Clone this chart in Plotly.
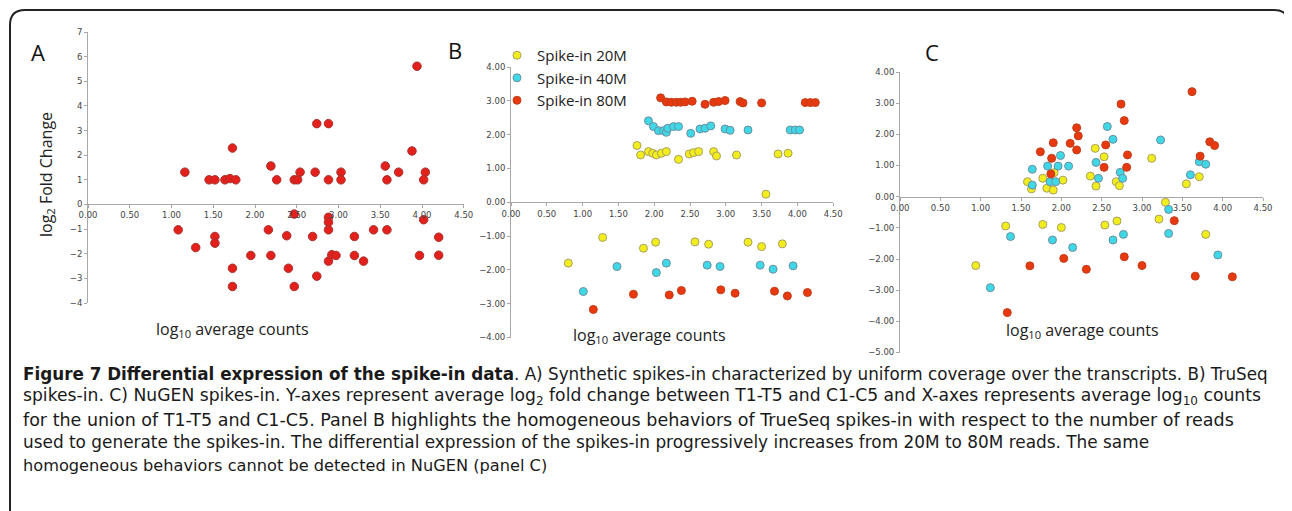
import plotly.graph_objects as go

W, H = 1292, 511
PAGE_OFFSET = 8  # the browser puts the figure 8px in from the page corner

# ---- Panel A: synthetic spikes-in ----
a_x = [1.16, 1.45, 1.52, 1.64, 1.70, 1.77, 1.73, 2.19, 2.26, 2.47, 2.51, 2.54, 2.72,
       2.74, 2.88, 2.88, 3.03, 3.03, 3.56, 3.58, 3.72, 3.88, 3.94, 4.04, 4.02,
       1.08, 1.29, 1.52, 1.52, 1.73, 1.73, 1.95, 2.16, 2.19, 2.38, 2.40, 2.47, 2.47,
       2.69, 2.74, 2.88, 2.88, 2.88, 2.88, 2.92, 2.97, 3.19, 3.19, 3.30, 3.42, 3.58,
       3.97, 4.02, 4.20, 4.20]
a_y = [1.31, 1.00, 1.00, 1.00, 1.05, 1.00, 2.29, 1.56, 1.00, 1.00, 1.00, 1.31, 1.31,
       3.28, 3.28, 1.00, 1.31, 1.00, 1.56, 1.00, 1.31, 2.17, 5.61, 1.31, 1.00,
       -1.03, -1.75, -1.30, -1.57, -2.59, -3.33, -2.07, -1.03, -2.07, -1.27, -2.59, -0.39, -3.33,
       -1.30, -2.91, -0.52, -0.72, -1.03, -2.30, -2.04, -2.07, -1.30, -2.07, -2.30, -1.03, -1.03,
       -2.07, -0.62, -1.33, -2.06]

# ---- Panel B: TruSeq spikes-in ----
b20_x = [1.76, 1.81, 1.92, 1.98, 2.03, 2.10, 2.17, 2.34, 2.49, 2.55, 2.62, 2.83, 2.87,
         3.15, 3.56, 3.73, 3.87,
         0.80, 1.28, 1.85, 2.02, 2.57, 2.76, 3.31, 3.50, 3.79]
b20_y = [1.68, 1.40, 1.50, 1.45, 1.40, 1.45, 1.50, 1.27, 1.43, 1.47, 1.50, 1.50, 1.37,
         1.40, 0.24, 1.43, 1.45,
         -1.80, -1.04, -1.36, -1.18, -1.17, -1.24, -1.18, -1.31, -1.23]
b40_x = [1.92, 1.99, 2.06, 2.13, 2.17, 2.19, 2.27, 2.34, 2.51, 2.64, 2.71, 2.79, 2.99,
         3.06, 3.31, 3.90, 3.97, 4.03,
         1.01, 1.48, 2.03, 2.17, 2.74, 2.92, 3.48, 3.66, 3.94]
b40_y = [2.41, 2.24, 2.12, 2.12, 2.07, 2.19, 2.24, 2.24, 2.04, 2.17, 2.19, 2.26, 2.17,
         2.13, 2.14, 2.14, 2.14, 2.14,
         -2.64, -1.90, -2.08, -1.80, -1.86, -1.90, -1.86, -1.98, -1.88]
b80_x = [2.09, 2.17, 2.24, 2.31, 2.37, 2.43, 2.53, 2.71, 2.83, 2.90, 2.99, 3.20, 3.24,
         3.50, 4.11, 4.18, 4.25,
         1.15, 1.71, 2.21, 2.38, 2.93, 3.13, 3.68, 3.86, 4.14]
b80_y = [3.09, 2.97, 2.96, 2.96, 2.96, 2.97, 2.99, 2.90, 2.96, 2.98, 3.01, 2.98, 2.94,
         2.94, 2.95, 2.95, 2.95,
         -3.17, -2.72, -2.74, -2.61, -2.59, -2.69, -2.63, -2.77, -2.67]

# ---- Panel C: NuGEN spikes-in ----
c20_x = [2.42, 2.53, 3.12, 1.58, 1.63, 1.77, 1.82, 1.91, 1.90, 2.02, 2.36, 2.43, 2.68,
         2.72, 3.55, 3.71, 3.29, 3.21, 1.31, 1.77, 2.00, 2.54, 2.69, 3.79, 0.94]
c20_y = [1.55, 1.28, 1.23, 0.48, 0.25, 0.59, 0.27, 0.77, 0.21, 0.53, 0.66, 0.34, 0.48,
         0.35, 0.41, 0.64, -0.18, -0.72, -0.94, -0.89, -0.99, -0.91, -0.78, -1.21, -2.21]
c40_x = [2.57, 2.64, 3.23, 1.99, 1.64, 1.83, 1.96, 2.09, 2.43, 1.64, 1.86, 1.93, 2.46,
         2.73, 2.76, 3.60, 3.71, 3.79, 3.33, 3.33, 1.37, 1.89, 2.14, 2.64, 2.77, 3.94, 1.12]
c40_y = [2.25, 1.84, 1.82, 1.32, 0.88, 0.98, 0.98, 0.98, 1.10, 0.37, 0.48, 0.48, 0.59,
         0.78, 0.59, 0.70, 1.12, 1.04, -0.41, -1.18, -1.28, -1.39, -1.63, -1.39, -1.21, -1.87, -2.92]
c80_x = [3.62, 2.74, 2.78, 2.19, 2.21, 1.90, 2.11, 2.19, 1.74, 2.55, 1.88, 2.82, 2.53,
         2.81, 1.87, 3.84, 3.90, 3.72, 3.40, 1.61, 2.03, 2.31, 2.78, 3.00, 3.66, 4.12, 1.33]
c80_y = [3.37, 2.97, 2.44, 2.21, 1.95, 1.73, 1.71, 1.50, 1.44, 1.66, 1.23, 1.34, 0.94,
         0.94, 0.73, 1.76, 1.64, 1.30, -0.77, -2.22, -1.98, -2.33, -1.93, -2.21, -2.55, -2.57, -3.72]

series_names = ["Spike-in 20M", "Spike-in 40M", "Spike-in 80M"]
fill_colors = ["#f2ee1e", "#3fd8e6", "#e8380f"]
edge_colors = ["#a9a060", "#6b8fa0", "#c0401a"]

x_ticks = [0, 0.5, 1, 1.5, 2, 2.5, 3, 3.5, 4, 4.5]


def px_x(p):
    return (p - PAGE_OFFSET) / W


def px_y(p):
    return 1 - (p - PAGE_OFFSET) / H


fig = go.Figure()

# panel A
fig.add_trace(go.Scatter(
    x=a_x, y=a_y, mode="markers", showlegend=False,
    marker=dict(size=8.5, color="#e3201b", line=dict(color="#a8322c", width=1)),
    xaxis="x", yaxis="y"))

# panels B and C
b_data = [(b20_x, b20_y), (b40_x, b40_y), (b80_x, b80_y)]
c_data = [(c20_x, c20_y), (c40_x, c40_y), (c80_x, c80_y)]
for i, name in enumerate(series_names):
    fig.add_trace(go.Scatter(
        x=b_data[i][0], y=b_data[i][1], mode="markers", name=name,
        marker=dict(size=8, color=fill_colors[i], line=dict(color=edge_colors[i], width=1)),
        xaxis="x2", yaxis="y2"))
for i, name in enumerate(series_names):
    fig.add_trace(go.Scatter(
        x=c_data[i][0], y=c_data[i][1], mode="markers", name=name, showlegend=False,
        marker=dict(size=8, color=fill_colors[i], line=dict(color=edge_colors[i], width=1)),
        xaxis="x3", yaxis="y3"))

axis_common = dict(showgrid=False, zeroline=False, showline=True, linecolor="#a8a8a8",
                   linewidth=1, ticks="outside", ticklen=3, tickcolor="#a8a8a8",
                   automargin=False,
                   tickfont=dict(family="DejaVu Sans", size=8.5, color="#444444"))

# pixel layout of each panel: x zero, px per x unit, y zero line, y top/bottom
panels = {
    "": dict(x0=88, xu=83.5, yz=204, ytop=32, ybot=303, yr=[-4, 7], yfmt="d",
             ytv=list(range(-4, 8))),
    "2": dict(x0=511, xu=71.6, yz=202.3, ytop=67.1, ybot=337.5, yr=[-4, 4], yfmt=".2f",
              ytv=list(range(-4, 5))),
    "3": dict(x0=900, xu=80.67, yz=196.7, ytop=72, ybot=352.5, yr=[-5, 4], yfmt=".2f",
              ytv=list(range(-5, 5))),
}
layout_axes = {}
for k, p in panels.items():
    xa = dict(axis_common)
    xa.update(range=[0, 4.5], tickvals=x_ticks, tickformat=".2f",
              domain=[px_x(p["x0"]), px_x(p["x0"] + 4.5 * p["xu"])],
              anchor="free", position=px_y(p["yz"]))
    ya = dict(axis_common)
    ya.update(range=p["yr"], tickvals=p["ytv"], tickformat=p["yfmt"],
              domain=[px_y(p["ybot"]), px_y(p["ytop"])],
              anchor="x" + k)
    layout_axes["xaxis" + k] = xa
    layout_axes["yaxis" + k] = ya
fig.update_layout(**layout_axes)


def label(text, xp, yp, size, family="Open Sans", xanchor="center", angle=0, color="#222"):
    return dict(text=text, x=px_x(xp), y=px_y(yp), xref="paper", yref="paper",
                xanchor=xanchor, yanchor="middle", showarrow=False, textangle=angle,
                font=dict(family=family, size=size, color=color))


annotations = []
# panel letters
for letter, xp, yp in [("A", 38, 52), ("B", 455, 50), ("C", 932, 52)]:
    annotations.append(label(letter, xp, yp, 22, color="#111"))
# axis titles
for xp, yp in [(232, 329), (649, 335), (1082, 330)]:
    annotations.append(label("log<sub>10</sub> average counts", xp, yp, 16))
annotations.append(label("log<sub>2</sub> Fold Change", 46, 175, 16, angle=-90))

caption = [
    "<b>Figure 7 Differential expression of the spike-in data</b>. A) Synthetic spikes-in "
    "characterized by uniform coverage over the transcripts. B) TruSeq",
    "spikes-in. C) NuGEN spikes-in. Y-axes represent average log<sub>2</sub> fold change between "
    "T1-T5 and C1-C5 and X-axes represents average log<sub>10</sub> counts",
    "for the union of T1-T5 and C1-C5. Panel B highlights the homogeneous behaviors of TrueSeq "
    "spikes-in with respect to the number of reads",
    "used to generate the spikes-in. The differential expression of the spikes-in progressively "
    "increases from 20M to 80M reads. The same",
    "homogeneous behaviors cannot be detected in NuGEN (panel C)",
]
caption_sizes = [16.8, 17.2, 17.5, 16.9, 16.2]
for i, line in enumerate(caption):
    annotations.append(label(line, 21, 374 + 22.8 * i, caption_sizes[i],
                             family="DejaVu Sans", xanchor="left", color="#1a1a1a"))

# rounded frame
r = 15
x0, x1, y0, y1 = 10, 1289, 10, 540
path = (f"M {px_x(x0)},{px_y(y1)} L {px_x(x0)},{px_y(y0 + r)} "
        f"Q {px_x(x0)},{px_y(y0)} {px_x(x0 + r)},{px_y(y0)} "
        f"L {px_x(x1 - r)},{px_y(y0)} Q {px_x(x1)},{px_y(y0)} {px_x(x1)},{px_y(y0 + r)} "
        f"L {px_x(x1)},{px_y(y1)}")

fig.update_layout(
    template="none",
    width=W, height=H,
    margin=dict(l=0, r=0, t=0, b=0, pad=0),
    paper_bgcolor="white", plot_bgcolor="white",
    annotations=annotations,
    shapes=[dict(type="path", path=path, xref="paper", yref="paper",
                 line=dict(color="#222", width=2))],
    legend=dict(x=px_x(497), y=px_y(39), xanchor="left", yanchor="top",
                bgcolor="rgba(0,0,0,0)", font=dict(family="Open Sans", size=15, color="#222"),
                tracegroupgap=0),
)

fig.write_html("out.html")
